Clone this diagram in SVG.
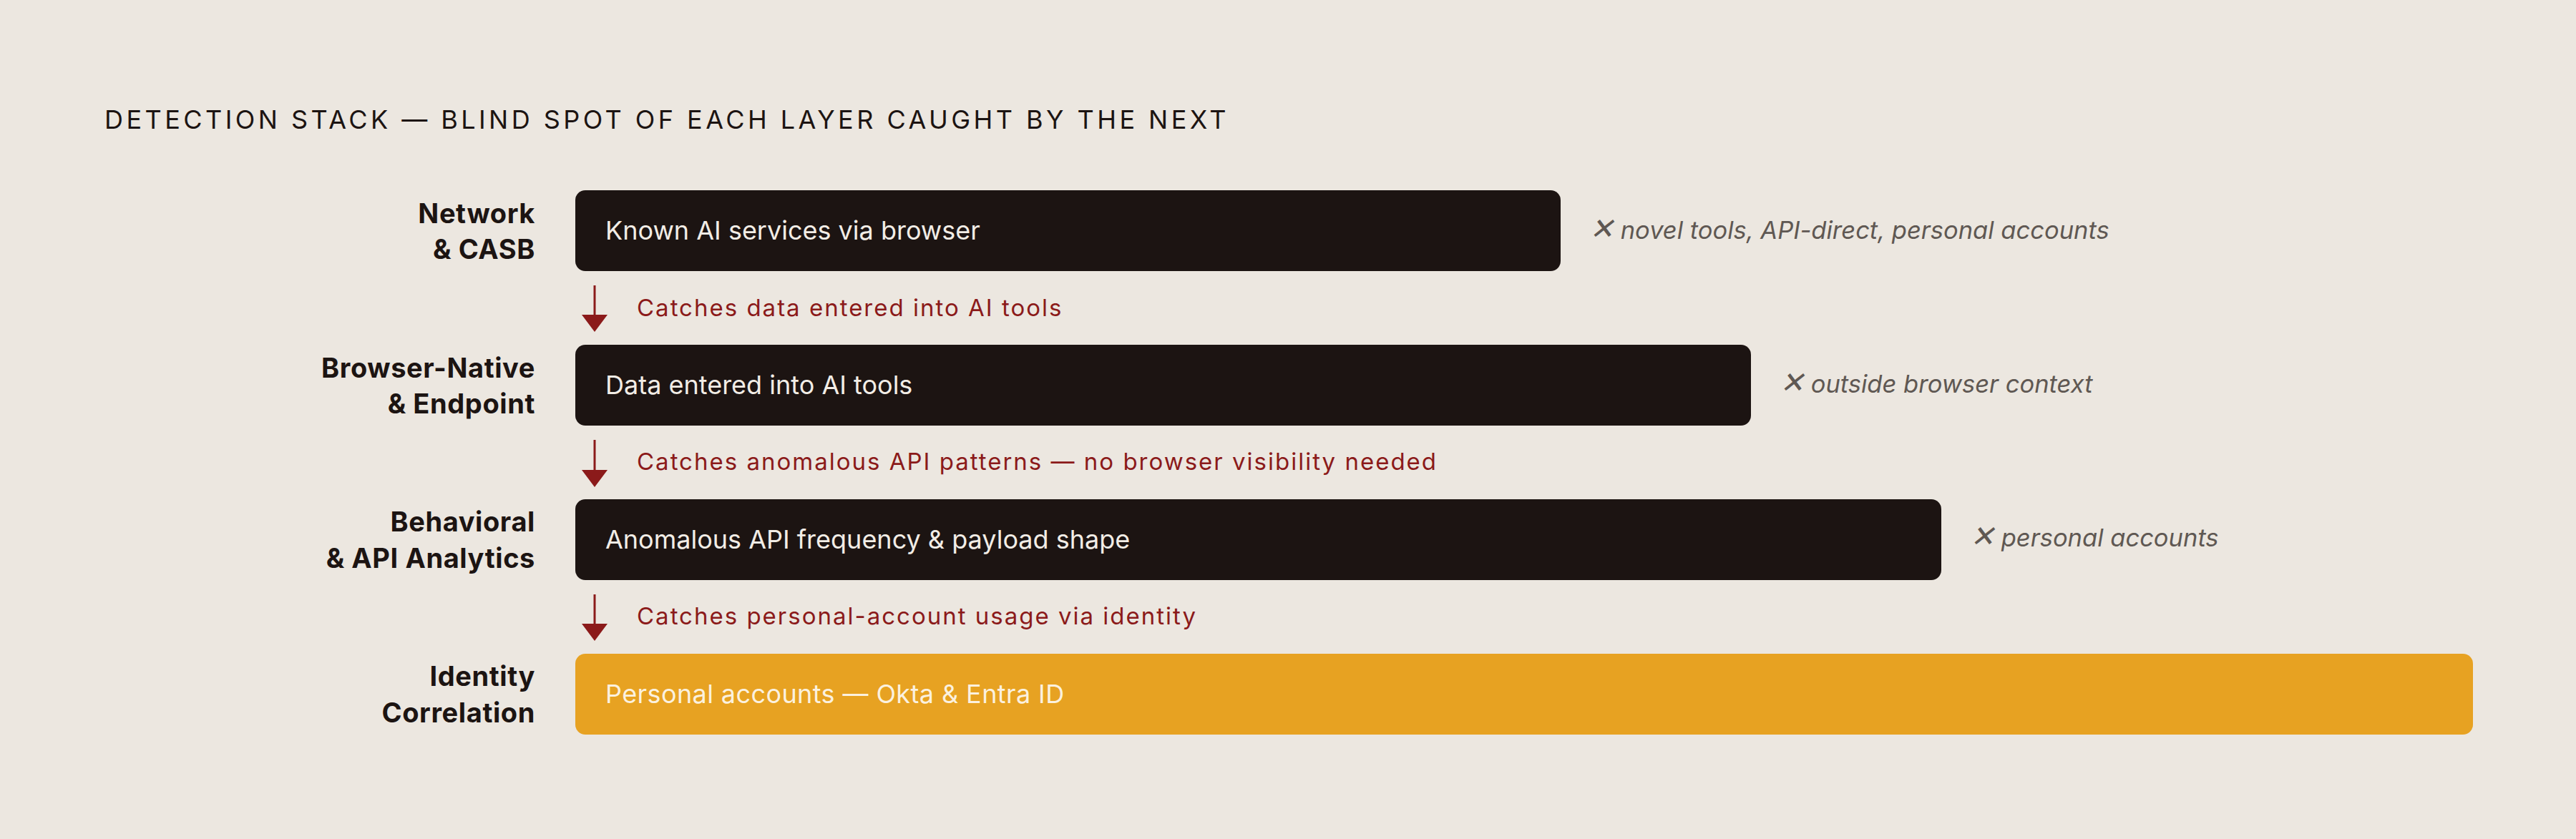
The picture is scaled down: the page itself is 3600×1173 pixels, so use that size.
<svg xmlns="http://www.w3.org/2000/svg" width="3600" height="1173" viewBox="0 0 3600 1173">
<defs>
<style>
.title{font-family:Inter,"Liberation Sans",sans-serif;font-size:36px;fill:#1c1412;letter-spacing:4.45px}
.lbl{font-family:Inter,"Liberation Sans",sans-serif;font-size:38px;font-weight:700;fill:#1c1412;text-anchor:end;letter-spacing:0.6px}
.box{fill:#1c1412}
.box4{fill:#e7a222}
.bt{font-family:Inter,"Liberation Sans",sans-serif;font-size:36px;fill:#f2ede6}
.bt4{font-family:Inter,"Liberation Sans",sans-serif;font-size:36px;fill:#fbf1df;letter-spacing:0.4px}
.miss{font-family:Inter,"Liberation Sans",sans-serif;font-size:34.5px;font-style:italic;fill:#5f5853}
.x{font-size:41px}
.cap{font-family:Inter,"Liberation Sans",sans-serif;font-size:33px;fill:#8b1a1a;letter-spacing:2px}
.arr{stroke:#8b1a1a;stroke-width:3;fill:none}
.head{fill:#8b1a1a}
</style>
<marker id="ah" viewBox="0 0 24 36" refX="0" refY="18" markerWidth="24" markerHeight="36" markerUnits="userSpaceOnUse" orient="auto">
<path d="M0 0 L24 18 L0 36 Z" class="head"/>
</marker>
</defs>
<rect width="3600" height="1173" fill="#ece7e0"/>
<text class="title" x="146" y="180">DETECTION STACK — BLIND SPOT OF EACH LAYER CAUGHT BY THE NEXT</text>

<g id="layer-network">
<text class="lbl" x="748" y="312">Network</text>
<text class="lbl" x="748" y="362">&amp; CASB</text>
<rect class="box" x="804" y="266" width="1377" height="113" rx="14"/>
<text class="bt" x="846" y="335">Known AI services via browser</text>
<text class="miss" x="2221" y="334"><tspan class="x">✕</tspan> novel tools, API-direct, personal accounts</text>
</g>

<g id="layer-browser">
<text class="lbl" x="748" y="528">Browser-Native</text>
<text class="lbl" x="748" y="578">&amp; Endpoint</text>
<rect class="box" x="804" y="482" width="1643" height="113" rx="14"/>
<text class="bt" x="846" y="551">Data entered into AI tools</text>
<text class="miss" x="2487" y="549"><tspan class="x">✕</tspan> outside browser context</text>
</g>

<g id="layer-behavioral">
<text class="lbl" x="748" y="743">Behavioral</text>
<text class="lbl" x="748" y="794">&amp; API Analytics</text>
<rect class="box" x="804" y="698" width="1909" height="113" rx="14"/>
<text class="bt" x="846" y="767">Anomalous API frequency &amp; payload shape</text>
<text class="miss" x="2753" y="764"><tspan class="x">✕</tspan> personal accounts</text>
</g>

<g id="layer-identity">
<text class="lbl" x="748" y="959">Identity</text>
<text class="lbl" x="748" y="1010">Correlation</text>
<rect class="box4" x="804" y="914" width="2652" height="113" rx="14"/>
<text class="bt4" x="846" y="983">Personal accounts — Okta &amp; Entra ID</text>
</g>

<g id="connectors">
<line class="arr" x1="831" y1="399" x2="831" y2="440" marker-end="url(#ah)"/>
<text class="cap" x="890" y="442">Catches data entered into AI tools</text>
<line class="arr" x1="831" y1="615" x2="831" y2="657" marker-end="url(#ah)"/>
<text class="cap" x="890" y="657">Catches anomalous API patterns — no browser visibility needed</text>
<line class="arr" x1="831" y1="831" x2="831" y2="872" marker-end="url(#ah)"/>
<text class="cap" x="890" y="873">Catches personal-account usage via identity</text>
</g>
</svg>
